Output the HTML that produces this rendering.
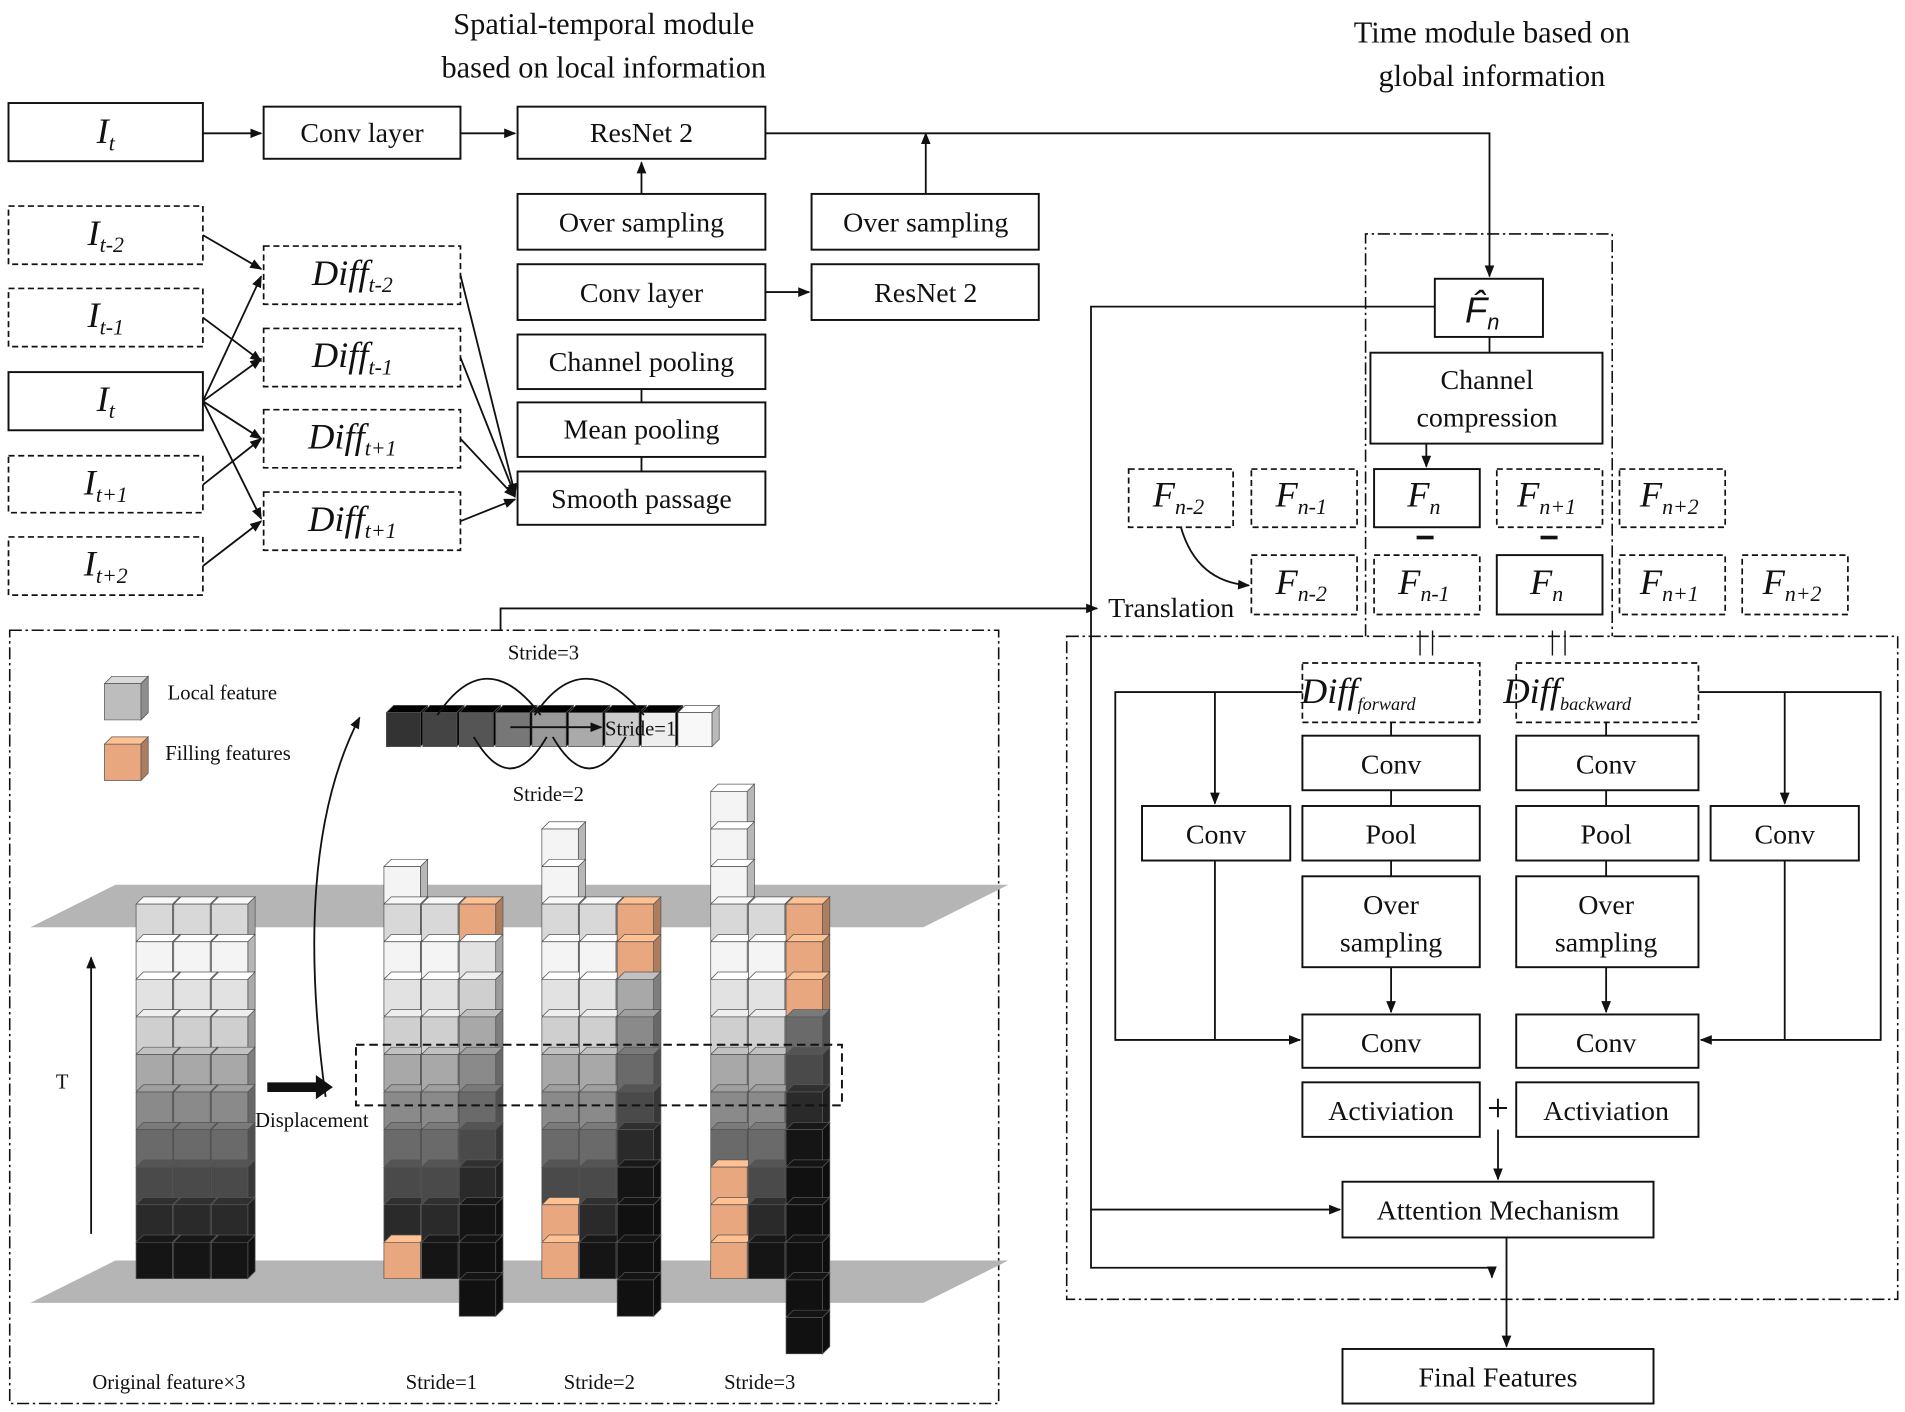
<!DOCTYPE html>
<html><head><meta charset="utf-8"><style>
html,body{margin:0;padding:0;background:#fff}
svg{display:block}
text{font-family:"Liberation Serif",serif;fill:#111}
.b{fill:#fff;stroke:#111;stroke-width:1.6}
.d{fill:#fff;stroke:#111;stroke-width:1.4;stroke-dasharray:5,3}
.dd{fill:none;stroke:#111;stroke-width:1.3;stroke-dasharray:10,3,2,3}
.l{stroke:#111;stroke-width:1.5;fill:none}
.t{font-size:23px;text-anchor:middle}
.i{font-size:30px;font-style:italic;text-anchor:middle}
.s{font-size:17px}
</style></head><body>
<svg id="svg" width="1905" height="1412" viewBox="0 0 1568 1165" preserveAspectRatio="none" xmlns="http://www.w3.org/2000/svg">
<defs><marker id="a" markerWidth="10" markerHeight="8" refX="9" refY="4" orient="auto" markerUnits="userSpaceOnUse"><path d="M0,0 L10,4 L0,8z" fill="#111"/></marker></defs>

<text x="497" y="28" class="t" style="font-size:25px">Spatial-temporal module</text>
<text x="497" y="64" class="t" style="font-size:25px">based on local information</text>
<text x="1228" y="35" class="t" style="font-size:25px">Time module based on</text>
<text x="1228" y="71" class="t" style="font-size:25px">global information</text>

<rect class="b" x="7" y="85" width="160" height="48"/><text class="i" x="87" y="118">I<tspan font-size="18" dy="6">t</tspan></text>
<rect class="b" x="217" y="88" width="162" height="43"/><text class="t" x="298" y="117">Conv layer</text>
<rect class="b" x="426" y="88" width="204" height="43"/><text class="t" x="528" y="117">ResNet 2</text>
<line class="l" x1="167" y1="110" x2="215" y2="110" marker-end="url(#a)"/>
<line class="l" x1="379" y1="110" x2="424" y2="110" marker-end="url(#a)"/>

<rect class="d" x="7" y="170" width="160" height="48"/><text class="i" x="87" y="202">I<tspan font-size="18" dy="6">t-2</tspan></text>
<rect class="d" x="7" y="238" width="160" height="48"/><text class="i" x="87" y="270">I<tspan font-size="18" dy="6">t-1</tspan></text>
<rect class="b" x="7" y="307" width="160" height="48"/><text class="i" x="87" y="339">I<tspan font-size="18" dy="6">t</tspan></text>
<rect class="d" x="7" y="376" width="160" height="47"/><text class="i" x="87" y="408">I<tspan font-size="18" dy="6">t+1</tspan></text>
<rect class="d" x="7" y="443" width="160" height="48"/><text class="i" x="87" y="475">I<tspan font-size="18" dy="6">t+2</tspan></text>

<rect class="d" x="217" y="203" width="162" height="48"/><text class="i" x="290" y="235">Diff<tspan font-size="18" dy="6">t-2</tspan></text>
<rect class="d" x="217" y="271" width="162" height="48"/><text class="i" x="290" y="303">Diff<tspan font-size="18" dy="6">t-1</tspan></text>
<rect class="d" x="217" y="338" width="162" height="48"/><text class="i" x="290" y="370">Diff<tspan font-size="18" dy="6">t+1</tspan></text>
<rect class="d" x="217" y="406" width="162" height="48"/><text class="i" x="290" y="438">Diff<tspan font-size="18" dy="6">t+1</tspan></text>

<line class="l" x1="167" y1="194" x2="215" y2="222" marker-end="url(#a)"/>
<line class="l" x1="167" y1="262" x2="215" y2="298" marker-end="url(#a)"/>
<line class="l" x1="167" y1="331" x2="215" y2="228" marker-end="url(#a)"/>
<line class="l" x1="167" y1="331" x2="215" y2="296" marker-end="url(#a)"/>
<line class="l" x1="167" y1="331" x2="215" y2="362" marker-end="url(#a)"/>
<line class="l" x1="167" y1="331" x2="215" y2="428" marker-end="url(#a)"/>
<line class="l" x1="167" y1="400" x2="215" y2="362" marker-end="url(#a)"/>
<line class="l" x1="167" y1="467" x2="215" y2="430" marker-end="url(#a)"/>
<line class="l" x1="379" y1="227" x2="424" y2="408" marker-end="url(#a)"/>
<line class="l" x1="379" y1="295" x2="424" y2="409" marker-end="url(#a)"/>
<line class="l" x1="379" y1="362" x2="424" y2="410" marker-end="url(#a)"/>
<line class="l" x1="379" y1="430" x2="424" y2="412" marker-end="url(#a)"/>

<rect class="b" x="426" y="160" width="204" height="46"/><text class="t" x="528" y="191">Over sampling</text>
<rect class="b" x="426" y="218" width="204" height="46"/><text class="t" x="528" y="249">Conv layer</text>
<rect class="b" x="426" y="276" width="204" height="45"/><text class="t" x="528" y="306">Channel pooling</text>
<rect class="b" x="426" y="332" width="204" height="45"/><text class="t" x="528" y="362">Mean pooling</text>
<rect class="b" x="426" y="389" width="204" height="44"/><text class="t" x="528" y="419">Smooth passage</text>
<line class="l" x1="528" y1="160" x2="528" y2="134" marker-end="url(#a)"/>
<line class="l" x1="528" y1="321" x2="528" y2="332"/>
<line class="l" x1="528" y1="377" x2="528" y2="389"/>
<rect class="b" x="668" y="160" width="187" height="46"/><text class="t" x="762" y="191">Over sampling</text>
<rect class="b" x="668" y="218" width="187" height="46"/><text class="t" x="762" y="249">ResNet 2</text>
<line class="l" x1="630" y1="241" x2="666" y2="241" marker-end="url(#a)"/>
<line class="l" x1="762" y1="160" x2="762" y2="110" marker-end="url(#a)"/>
<polyline class="l" points="630,110 1226,110 1226,228" marker-end="url(#a)"/>

<polyline class="dd" points="1124,525 1124,193 1327,193 1327,525"/>
<rect class="dd" x="878" y="525" width="684" height="547"/>
<rect class="b" x="1181" y="230" width="89" height="48"/><text class="i" x="1220" y="266" style="font-family:'Liberation Sans',sans-serif">F̂<tspan font-size="18" dy="6">n</tspan></text>
<rect class="b" x="1128" y="291" width="191" height="75"/><text class="t" x="1224" y="321">Channel</text><text class="t" x="1224" y="352">compression</text>
<line class="l" x1="1226" y1="278" x2="1226" y2="291"/>
<line class="l" x1="1174" y1="366" x2="1174" y2="385" marker-end="url(#a)"/>

<rect class="d" x="929" y="387" width="86" height="48"/><text class="i" x="970" y="418">F<tspan font-size="18" dy="6">n-2</tspan></text>
<rect class="d" x="1030" y="387" width="87" height="48"/><text class="i" x="1071" y="418">F<tspan font-size="18" dy="6">n-1</tspan></text>
<rect class="b" x="1131" y="387" width="87" height="48"/><text class="i" x="1172" y="418">F<tspan font-size="18" dy="6">n</tspan></text>
<rect class="d" x="1232" y="387" width="87" height="48"/><text class="i" x="1273" y="418">F<tspan font-size="18" dy="6">n+1</tspan></text>
<rect class="d" x="1333" y="387" width="87" height="48"/><text class="i" x="1374" y="418">F<tspan font-size="18" dy="6">n+2</tspan></text>
<rect class="d" x="1030" y="458" width="87" height="49"/><text class="i" x="1071" y="490">F<tspan font-size="18" dy="6">n-2</tspan></text>
<rect class="d" x="1131" y="458" width="87" height="49"/><text class="i" x="1172" y="490">F<tspan font-size="18" dy="6">n-1</tspan></text>
<rect class="b" x="1232" y="458" width="87" height="49"/><text class="i" x="1273" y="490">F<tspan font-size="18" dy="6">n</tspan></text>
<rect class="d" x="1333" y="458" width="87" height="49"/><text class="i" x="1374" y="490">F<tspan font-size="18" dy="6">n+1</tspan></text>
<rect class="d" x="1434" y="458" width="87" height="49"/><text class="i" x="1475" y="490">F<tspan font-size="18" dy="6">n+2</tspan></text>
<rect x="1166" y="442" width="14" height="3" fill="#111"/><rect x="1268" y="442" width="14" height="3" fill="#111"/>
<text class="t" x="1174" y="536">| |</text><text class="t" x="1283" y="536">| |</text>
<path class="l" d="M972,435 Q985,480 1028,483" marker-end="url(#a)"/>
<text class="t" x="964" y="509">Translation</text>

<rect class="d" x="1072" y="547" width="146" height="49"/><text class="i" x="1118" y="580">Diff<tspan font-size="15" dy="6">forward</tspan></text>
<rect class="d" x="1248" y="547" width="150" height="49"/><text class="i" x="1290" y="580">Diff<tspan font-size="15" dy="6">backward</tspan></text>
<rect class="b" x="1072" y="607" width="146" height="45"/><text class="t" x="1145" y="638">Conv</text>
<rect class="b" x="1248" y="607" width="150" height="45"/><text class="t" x="1322" y="638">Conv</text>
<rect class="b" x="1072" y="665" width="146" height="45"/><text class="t" x="1145" y="696">Pool</text>
<rect class="b" x="1248" y="665" width="150" height="45"/><text class="t" x="1322" y="696">Pool</text>
<rect class="b" x="1072" y="723" width="146" height="75"/><text class="t" x="1145" y="754">Over</text><text class="t" x="1145" y="785">sampling</text>
<rect class="b" x="1248" y="723" width="150" height="75"/><text class="t" x="1322" y="754">Over</text><text class="t" x="1322" y="785">sampling</text>
<rect class="b" x="1072" y="837" width="146" height="44"/><text class="t" x="1145" y="868">Conv</text>
<rect class="b" x="1248" y="837" width="150" height="44"/><text class="t" x="1322" y="868">Conv</text>
<rect class="b" x="1072" y="893" width="146" height="45"/><text class="t" x="1145" y="924">Activiation</text>
<rect class="b" x="1248" y="893" width="150" height="45"/><text class="t" x="1322" y="924">Activiation</text>
<rect class="b" x="940" y="665" width="122" height="45"/><text class="t" x="1001" y="696">Conv</text>
<rect class="b" x="1408" y="665" width="122" height="45"/><text class="t" x="1469" y="696">Conv</text>
<line class="l" x1="1145" y1="596" x2="1145" y2="607"/><line class="l" x1="1322" y1="596" x2="1322" y2="607"/>
<line class="l" x1="1145" y1="652" x2="1145" y2="665"/><line class="l" x1="1322" y1="652" x2="1322" y2="665"/>
<line class="l" x1="1145" y1="710" x2="1145" y2="723"/><line class="l" x1="1322" y1="710" x2="1322" y2="723"/>
<line class="l" x1="1145" y1="798" x2="1145" y2="835" marker-end="url(#a)"/><line class="l" x1="1322" y1="798" x2="1322" y2="835" marker-end="url(#a)"/>
<polyline class="l" points="1072,571 918,571 918,858 1070,858" marker-end="url(#a)"/>
<line class="l" x1="1000" y1="571" x2="1000" y2="663" marker-end="url(#a)"/>
<line class="l" x1="1000" y1="710" x2="1000" y2="858"/>
<polyline class="l" points="1398,571 1548,571 1548,858 1400,858" marker-end="url(#a)"/>
<line class="l" x1="1469" y1="571" x2="1469" y2="663" marker-end="url(#a)"/>
<line class="l" x1="1469" y1="710" x2="1469" y2="858"/>
<text class="t" x="1233" y="925" style="font-size:32px">+</text>
<line class="l" x1="1233" y1="932" x2="1233" y2="973" marker-end="url(#a)"/>
<rect class="b" x="1105" y="975" width="256" height="46"/><text class="t" x="1233" y="1006">Attention Mechanism</text>
<rect class="b" x="1105" y="1113" width="256" height="45"/><text class="t" x="1233" y="1144">Final Features</text>
<line class="l" x1="1240" y1="1021" x2="1240" y2="1111" marker-end="url(#a)"/>
<polyline class="l" points="1181,253 898,253 898,1046 1228,1046 1228,1054" marker-end="url(#a)"/>
<line class="l" x1="898" y1="998" x2="1103" y2="998" marker-end="url(#a)"/>

<rect class="dd" x="8" y="520" width="814" height="638"/>
<polyline class="l" points="412,520 412,502 903,502" marker-end="url(#a)"/>
<polygon points="25,765 95,730 830,730 760,765" fill="#b5b5b5"/>
<polygon points="25,1075 95,1040 830,1040 760,1075" fill="#b5b5b5"/>
<g id="cubes"></g>
<text class="s" x="138" y="577">Local feature</text>
<text class="s" x="136" y="627">Filling features</text>
<text class="s" x="418" y="544">Stride=3</text>
<text class="s" x="422" y="661">Stride=2</text>
<text class="s" x="498" y="607">Stride=1</text>
<path class="l" d="M360,590 Q400,530 445,590 M440,590 Q480,530 530,590 M390,608 Q420,660 450,608 M455,608 Q485,660 515,608"/>
<line class="l" x1="420" y1="600" x2="495" y2="600" marker-end="url(#a)"/>
<rect x="293" y="862" width="400" height="50" fill="none" stroke="#111" stroke-width="1.6" stroke-dasharray="7,4"/>
<path class="l" d="M268,905 Q240,700 296,592" marker-end="url(#a)"/>
<polygon points="220,893 260,893 260,887 274,897 260,907 260,901 220,901" fill="#111"/>
<text class="s" x="210" y="930">Displacement</text>
<text class="s" x="46" y="898">T</text>
<line class="l" x1="75" y1="1018" x2="75" y2="790" marker-end="url(#a)"/>
<text class="s" x="76" y="1146">Original feature×3</text>
<text class="s" x="334" y="1146">Stride=1</text>
<text class="s" x="464" y="1146">Stride=2</text>
<text class="s" x="596" y="1146">Stride=3</text>
</svg>
<script>
var g=document.getElementById('cubes'),NS='http://www.w3.org/2000/svg';
function sh(c,f){var r=parseInt(c.substr(1,2),16),gg=parseInt(c.substr(3,2),16),b=parseInt(c.substr(5,2),16);
function q(v){v=Math.max(0,Math.min(255,Math.round(v*f)));return ('0'+v.toString(16)).slice(-2)}return '#'+q(r)+q(gg)+q(b)}
function cube(x,y,c,s){s=s||30;var d=6;
function p(pts,col){var e=document.createElementNS(NS,'polygon');e.setAttribute('points',pts);e.setAttribute('fill',col);e.setAttribute('stroke','#555');e.setAttribute('stroke-width','0.6');g.appendChild(e)}
p(x+','+(y+d)+' '+(x+d)+','+y+' '+(x+s+d)+','+y+' '+(x+s)+','+(y+d),sh(c,1.15));
p((x+s)+','+(y+d)+' '+(x+s+d)+','+y+' '+(x+s+d)+','+(y+s)+' '+(x+s)+','+(y+s+d),sh(c,0.75));
p(x+','+(y+d)+' '+(x+s)+','+(y+d)+' '+(x+s)+','+(y+s+d)+' '+x+','+(y+s+d),c);}
var grad=['#d8d8d8','#f4f4f4','#e2e2e2','#cfcfcf','#a8a8a8','#8a8a8a','#6a6a6a','#4a4a4a','#2a2a2a','#151515','#111111','#111111'];
var OR='#e8a77f';
for(var r=0;r<10;r++)for(var c=0;c<3;c++)cube(112+c*31,740+r*31,grad[r]);
function col(x,y0,n,shift,orange){for(var r=0;r<n;r++){var k=r-shift;var cl=grad[Math.max(0,Math.min(11,k))];if(k<0)cl='#f4f4f4';if(orange.indexOf(r)>=0)cl=OR;cube(x,y0+r*31,cl)}}
col(316,709,11,1,[10]);col(347,740,10,0,[]);col(378,740,11,-1,[0]);
col(446,678,12,2,[10,11]);col(477,740,10,0,[]);col(508,740,11,-2,[0,1]);
col(585,647,13,3,[10,11,12]);col(616,740,10,0,[]);col(647,740,12,-3,[0,1,2]);
var rc=['#333','#444','#555','#777','#999','#aaa','#ccc','#eee','#f8f8f8'];
for(var i=0;i<9;i++)cube(318+i*30,582,rc[i],28);
cube(86,558,'#bdbdbd',30);cube(86,608,OR,30);
</script>
</body></html>
